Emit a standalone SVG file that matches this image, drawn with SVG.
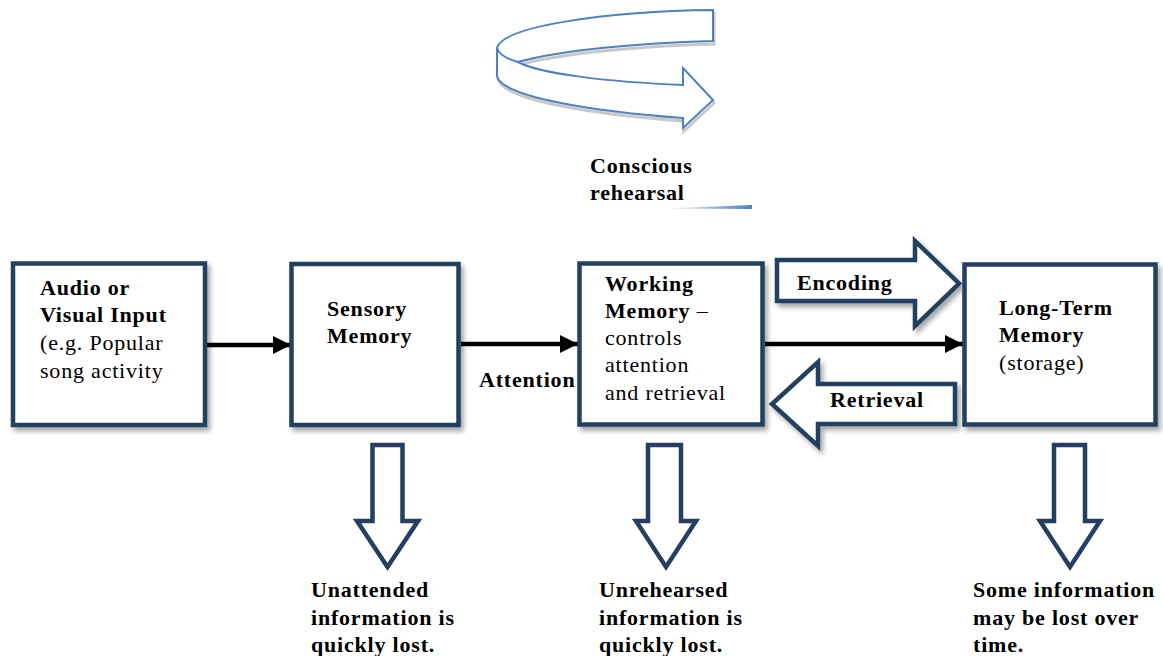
<svg xmlns="http://www.w3.org/2000/svg" width="1163" height="656" viewBox="0 0 1163 656">
<style>
.box{fill:#fff;stroke:#243f60;stroke-width:4.5}
.blk{fill:#fff;stroke:#243f60;stroke-width:4.5;stroke-linejoin:miter}
.b{font-family:"Liberation Serif",serif;font-weight:bold;font-size:22px;letter-spacing:0.8px;fill:#000}
.r{font-family:"Liberation Serif",serif;font-size:22px;letter-spacing:0.8px;fill:#000}
.ln{stroke:#000;stroke-width:4.5;fill:none}
</style>
<defs>
<filter id="sh" x="-10%" y="-10%" width="130%" height="130%">
<feDropShadow dx="3" dy="4" stdDeviation="2.5" flood-color="#000" flood-opacity="0.35"/>
</filter>
<marker id="ah" markerUnits="userSpaceOnUse" viewBox="0 0 18 18" markerWidth="18" markerHeight="18" refX="18" refY="9" orient="auto">
<path d="M0,0 L18,9 L0,18 z" fill="#000"/>
</marker>
<linearGradient id="gl" x1="0" y1="0" x2="1" y2="0">
<stop offset="0" stop-color="#4f81bd" stop-opacity="0.1"/>
<stop offset="1" stop-color="#4f81bd"/>
</linearGradient>
</defs>

<g id="rehearsal-arrow">
<path d="M713,10 C610,11 502,26 497,48 L497,76 C502,98 600,112 683,118 L683,128 L713,100 L683,68 L683,85 C610,82 540,74 518,62 C560,50 640,43 713,41 Z" fill="none" stroke="#c8c8c8" stroke-width="3" transform="translate(1,3)"/>
<path d="M713,10 C610,11 502,26 497,48 L497,76 C502,98 600,112 683,118 L683,128 L713,100 L683,68 L683,85 C610,82 540,74 518,62 C560,50 640,43 713,41 Z" fill="#fff" stroke="#4f81bd" stroke-width="2"/>
<path d="M497,48 C499,54 507,59 518,62" fill="none" stroke="#4f81bd" stroke-width="2"/>
<text class="b" x="590" y="173">Conscious</text>
<text class="b" x="590" y="200">rehearsal</text>
<polygon points="667,208.5 752,205 752,209" fill="url(#gl)"/>
</g>

<g id="connectors">
<line class="ln" x1="207" y1="345" x2="291" y2="345" marker-end="url(#ah)"/>
<line class="ln" x1="461" y1="344" x2="578" y2="344" marker-end="url(#ah)"/>
<line class="ln" x1="765" y1="344" x2="963" y2="344" marker-end="url(#ah)"/>
<text class="b" x="479" y="387">Attention</text>
</g>

<g id="encoding">
<polygon class="blk" filter="url(#sh)" points="777,260 915,260 915,241 959,283.5 915,326 915,301 777,301"/>
<text class="b" x="797" y="290">Encoding</text>
</g>
<g id="retrieval">
<polygon class="blk" filter="url(#sh)" points="955,384 818,384 818,362 772,404 818,446 818,424 955,424"/>
<text class="b" x="830" y="407">Retrieval</text>
</g>

<g id="input">
<rect class="box" filter="url(#sh)" x="13" y="263.5" width="192" height="161.5"/>
<text class="b" x="40" y="295">Audio or</text>
<text class="b" x="40" y="322">Visual Input</text>
<text class="r" x="40" y="350">(e.g. Popular</text>
<text class="r" x="40" y="378">song activity</text>
</g>

<g id="sensory">
<rect class="box" filter="url(#sh)" x="291.5" y="264" width="167" height="161"/>
<text class="b" x="327" y="316">Sensory</text>
<text class="b" x="327" y="343">Memory</text>
</g>

<g id="working">
<rect class="box" filter="url(#sh)" x="579.5" y="263.5" width="183" height="161"/>
<text class="b" x="605" y="291">Working</text>
<text x="605" y="318"><tspan class="b">Memory</tspan><tspan class="r"> –</tspan></text>
<text class="r" x="605" y="345">controls</text>
<text class="r" x="605" y="372">attention</text>
<text class="r" x="605" y="400">and retrieval</text>
</g>

<g id="ltm">
<rect class="box" filter="url(#sh)" x="964.5" y="264.5" width="191" height="160"/>
<text class="b" x="999" y="315">Long-Term</text>
<text class="b" x="999" y="342">Memory</text>
<text class="r" x="999" y="370">(storage)</text>
</g>

<g id="lost-sensory">
<polygon class="blk" points="372.5,445 402.5,445 402.5,521 418,521 387.5,567 357,521 372.5,521"/>
<text class="b" x="311" y="597">Unattended</text>
<text class="b" x="311" y="625">information is</text>
<text class="b" x="311" y="652">quickly lost.</text>
</g>

<g id="lost-working">
<polygon class="blk" points="648,445 681,445 681,521 696,521 666,567 636,521 648,521"/>
<text class="b" x="599" y="597">Unrehearsed</text>
<text class="b" x="599" y="625">information is</text>
<text class="b" x="599" y="652">quickly lost.</text>
</g>

<g id="lost-ltm">
<polygon class="blk" points="1054,445 1085,445 1085,521 1100,521 1070,567 1040,521 1054,521"/>
<text class="b" x="973" y="597">Some information</text>
<text class="b" x="973" y="625">may be lost over</text>
<text class="b" x="973" y="652">time.</text>
</g>
</svg>
